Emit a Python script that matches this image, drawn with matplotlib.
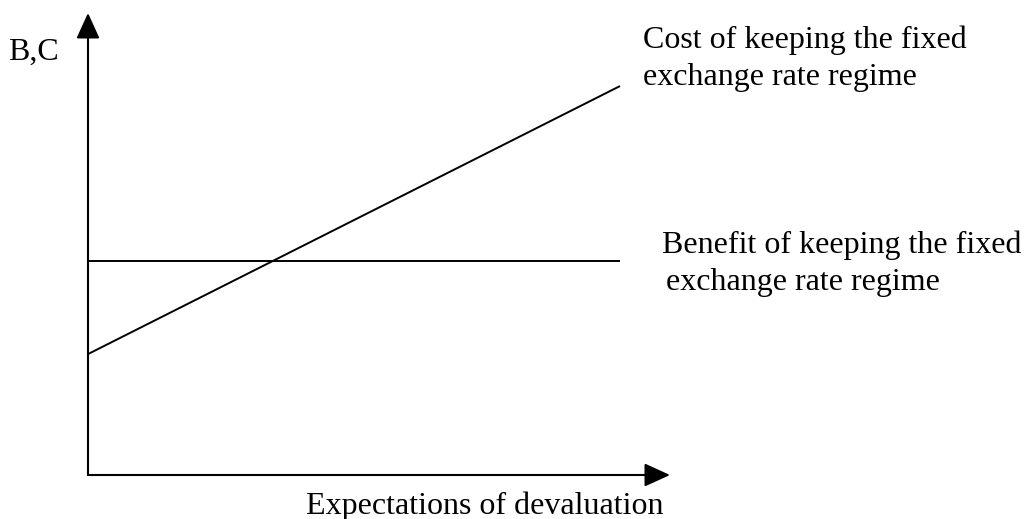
import numpy as np
import matplotlib.pyplot as plt

# conceptual data (arbitrary units)
expect = np.array([0.0, 10.0])
cost = np.array([2.26, 7.27])
benefit = np.array([4.0, 4.0])

x_label = "Expectations of devaluation"
y_label = "B,C"
cost_label = ["Cost of keeping the fixed", "exchange rate regime"]
benefit_label = ["Benefit of keeping the fixed", "exchange rate regime"]

plt.rcParams['font.family'] = ['Liberation Serif', 'DejaVu Serif']

W, H = 1031, 519
fig = plt.figure(figsize=(W / 100, H / 100), dpi=100)

# axes placed so origin sits at pixel (88, 475)
ox, oy = 88, 475
xmax, ymax = (670 - ox) / 53.2, (oy - 13) / 53.5
ax = fig.add_axes([ox / W, (H - oy) / H, (670 - ox) / W, (oy - 13) / H])
ax.set_xlim(0, xmax)
ax.set_ylim(0, ymax)
ax.axis('off')

ax.plot(expect, cost, color='black', lw=1.4, solid_capstyle='butt')
ax.plot(expect, benefit, color='black', lw=1.4, solid_capstyle='butt')

arrow = dict(arrowstyle='-|>,head_length=0.79,head_width=0.36', mutation_scale=20,
             lw=1.5, color='black', shrinkA=0, shrinkB=0)
ax.annotate('', xy=(0, ymax), xytext=(0, 0), arrowprops=arrow, annotation_clip=False)
ax.annotate('', xy=(xmax, 0), xytext=(0, 0), arrowprops=arrow, annotation_clip=False)

fs = 23
def px(x, y):
    return x / W, 1 - y / H

fig.text(*px(8, 60), y_label, fontsize=fs, va='baseline', ha='left')
for i, line in enumerate(cost_label):
    fig.text(*px(643, 48 + 37 * i), line, fontsize=fs, va='baseline', ha='left')
for i, line in enumerate(benefit_label):
    fig.text(*px(662 + 4 * i, 253 + 37 * i), line, fontsize=fs, va='baseline', ha='left')
fig.text(*px(664, 514), x_label, fontsize=fs, va='baseline', ha='right')

fig.savefig('out.png', dpi=100)
